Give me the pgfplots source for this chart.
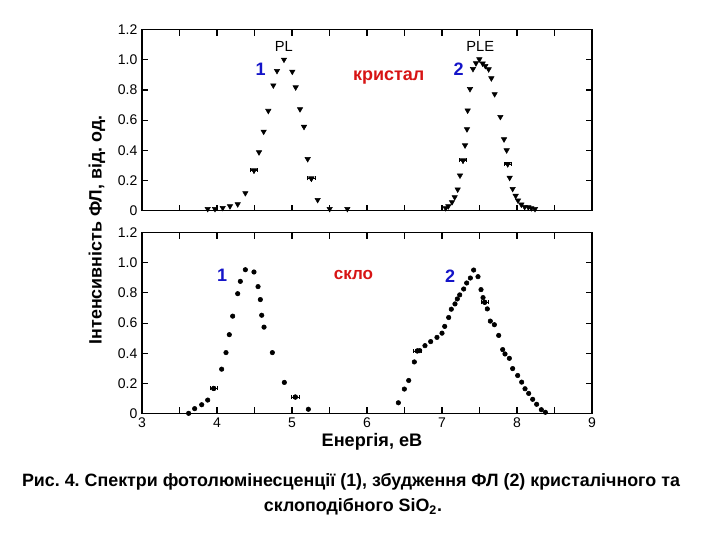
\documentclass[border=0pt]{standalone}
\usepackage{fontspec}
\setmainfont{Liberation Sans}
\usepackage{pgfplots}
\pgfplotsset{compat=1.18}
\definecolor{myblue}{RGB}{20,20,200}
\definecolor{myred}{RGB}{215,20,20}
\frenchspacing

\pgfplotstableread{
x y
3.876 0.011
3.973 0.011
4.076 0.018
4.173 0.029
4.276 0.042
4.378 0.116
4.493 0.267
4.560 0.387
4.622 0.524
4.684 0.662
4.751 0.831
4.800 0.927
4.893 1.002
5.004 0.922
5.049 0.818
5.107 0.673
5.160 0.556
5.209 0.342
5.258 0.213
5.342 0.071
5.502 0.011
5.738 0.011
}\crystPL

\pgfplotstableread{
x y
7.049 0.016
7.084 0.029
7.133 0.056
7.169 0.089
7.209 0.140
7.240 0.233
7.280 0.333
7.307 0.433
7.333 0.540
7.342 0.664
7.373 0.807
7.413 0.940
7.453 0.978
7.498 1.004
7.542 0.976
7.578 0.960
7.622 0.938
7.658 0.878
7.702 0.773
7.778 0.622
7.827 0.473
7.862 0.400
7.876 0.309
7.902 0.218
7.942 0.144
7.982 0.098
8.013 0.067
8.058 0.040
8.102 0.024
8.151 0.022
8.191 0.016
8.240 0.011
}\crystPLE

\pgfplotstableread{
x y
3.622 0.001
3.702 0.032
3.796 0.058
3.876 0.089
3.956 0.166
4.062 0.294
4.120 0.404
4.164 0.523
4.209 0.646
4.276 0.795
4.311 0.877
4.378 0.954
4.493 0.939
4.547 0.842
4.578 0.756
4.596 0.652
4.627 0.573
4.738 0.404
4.898 0.206
5.044 0.109
5.218 0.028
}\glassPL

\pgfplotstableread{
x y
6.418 0.071
6.498 0.162
6.556 0.219
6.631 0.342
6.671 0.415
6.702 0.417
6.773 0.450
6.849 0.477
6.933 0.505
7.000 0.533
7.036 0.578
7.089 0.637
7.124 0.692
7.173 0.727
7.204 0.760
7.236 0.787
7.289 0.826
7.329 0.866
7.378 0.899
7.422 0.952
7.480 0.908
7.520 0.822
7.547 0.769
7.569 0.738
7.604 0.694
7.644 0.613
7.698 0.589
7.756 0.518
7.809 0.424
7.840 0.395
7.898 0.366
7.942 0.298
8.009 0.252
8.062 0.208
8.107 0.164
8.156 0.133
8.209 0.094
8.262 0.061
8.324 0.025
8.378 0.008
}\glassPLE

\begin{document}
\begin{tikzpicture}
\path[use as bounding box] (0,0) rectangle (540pt,405pt);
\pgfplotsset{
 panel/.style={
  scale only axis, width=337.5pt, height=135.6pt, anchor=south west,
  xmin=3, xmax=9, ymin=0, ymax=1.2,
  xtick={3,3.5,4,4.5,5,5.5,6,6.5,7,7.5,8,8.5,9},
  ytick={0,0.2,0.4,0.6,0.8,1.0,1.2},
  yticklabels={0,0.2,0.4,0.6,0.8,1.0,1.2},
  tick align=inside, major tick length=4.5pt,
  axis line style={line width=0.9pt},
  tick style={line width=0.8pt, black},
  every tick label/.style={font=\fontsize{10.5}{12}\selectfont},
  /pgf/number format/assume math mode=true,
  clip=false,
 },
 tri/.style={only marks, mark=triangle*, mark size=2.3pt, black,
   mark options={rotate=180, fill=black, draw=black}},
 dot/.style={only marks, mark=*, mark size=1.7pt, black,
   mark options={fill=black, draw=black}},
 ebar/.style={error bars/.cd, x dir=both, x explicit,
   error bar style={line width=0.6pt, black},
   error mark options={mark size=1.5pt, black, rotate=90}},
}
% top panel (crystal)
\begin{axis}[panel, at={(106.5pt,247.1pt)}, xticklabels={,,,,,,,,,,,,}]
\addplot[tri] table {\crystPL};
\addplot[tri] table {\crystPLE};
\addplot[tri, ebar] coordinates {(4.493,0.267) +- (0.05,0) (5.258,0.213) +- (0.05,0) (7.280,0.333) +- (0.05,0) (7.876,0.309) +- (0.05,0)};
\node[font=\fontsize{11}{12}\selectfont] at (axis cs:4.89,1.087) {PL};
\node[font=\fontsize{11}{12}\selectfont] at (axis cs:7.51,1.087) {PLE};
\node[font=\bfseries\fontsize{13.5}{16}\selectfont, text=myblue] at (axis cs:4.583,0.94) {1};
\node[font=\bfseries\fontsize{13.5}{16}\selectfont, text=myblue] at (axis cs:7.22,0.94) {2};
\node[font=\bfseries\fontsize{13.5}{16}\selectfont, text=myred] at (axis cs:6.29,0.882) {кристал};
\end{axis}
% bottom panel (glass)
\begin{axis}[panel, at={(106.5pt,94.9pt)}, xticklabels={3,,4,,5,,6,,7,,8,,9}]
\addplot[dot] table {\glassPL};
\addplot[dot] table {\glassPLE};
\addplot[dot, ebar] coordinates {(3.956,0.166) +- (0.05,0) (5.044,0.109) +- (0.05,0) (6.671,0.415) +- (0.05,0) (7.569,0.738) +- (0.05,0)};
\node[font=\bfseries\fontsize{13.5}{16}\selectfont, text=myblue] at (axis cs:4.07,0.914) {1};
\node[font=\bfseries\fontsize{13.5}{16}\selectfont, text=myblue] at (axis cs:7.107,0.914) {2};
\node[font=\bfseries\fontsize{12.8}{15}\selectfont, text=myred] at (axis cs:5.82,0.92) {скло};
\end{axis}
\node[rotate=90, font=\bfseries\fontsize{13.4}{15}\selectfont] at (72.75pt,232.5pt) {Інтенсивність ФЛ, від. од.};
\node[font=\bfseries\fontsize{13.6}{15}\selectfont] at (279pt,74pt) {Енергія, еВ};
\node[font=\bfseries\fontsize{13.4}{15}\selectfont] at (263.25pt,43.5pt) {Рис. 4. Спектри фотолюмінесценції (1), збудження ФЛ (2) кристалічного та};
\node[font=\bfseries\fontsize{13.4}{15}\selectfont] at (264.75pt,25pt) {склоподібного SiO\textsubscript{2}.};
\end{tikzpicture}
\end{document}
